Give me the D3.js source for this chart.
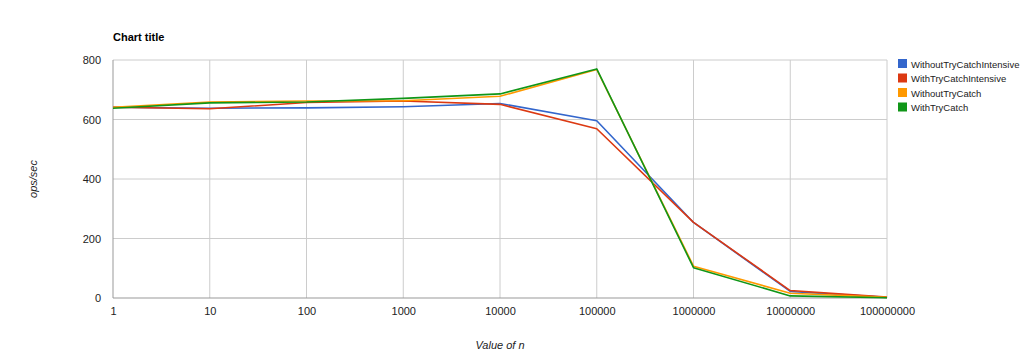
<!DOCTYPE html>
<html>
<head>
<meta charset="UTF-8">
<script src="https://d3js.org/d3.v7.min.js"></script>
<style>
    body { margin: 0; background: #fff; }
    svg { font-family: "Liberation Sans", Arial, sans-serif; }
    .tick text { font-size: 11px; fill: #222; }
</style>
</head>
<body>
<svg id="chart" width="1024" height="362"></svg>
<script>
    // Data
    const categories = ["1", "10", "100", "1000", "10000", "100000", "1000000", "10000000", "100000000"];
    const withoutTryCatchIntensive = [641, 638, 639, 643, 654, 596, 254, 22, 2];
    const withTryCatchIntensive = [641, 636, 657, 662, 651, 569, 254, 25, 3];
    const withoutTryCatch = [641, 659, 662, 663, 678, 768, 107, 16, 2];
    const withTryCatch = [638, 656, 659, 671, 686, 770, 102, 7, 1];
    const yTicks = [0, 200, 400, 600, 800];

    const series = [
        { name: "WithoutTryCatchIntensive", values: withoutTryCatchIntensive, color: "#3366cc" },
        { name: "WithTryCatchIntensive", values: withTryCatchIntensive, color: "#dc3912" },
        { name: "WithoutTryCatch", values: withoutTryCatch, color: "#ff9900" },
        { name: "WithTryCatch", values: withTryCatch, color: "#109618" }
    ];

    const svg = d3.select("#chart");
    const plotLeft = 113, plotRight = 887, plotTop = 60, plotBottom = 298;

    const x = d3.scalePoint().domain(categories).range([plotLeft, plotRight]);
    const y = d3.scaleLinear().domain([0, 800]).range([plotBottom, plotTop]);

    // Gridlines
    svg.append("g").selectAll("line").data(yTicks.slice(1)).enter().append("line")
        .attr("x1", plotLeft).attr("x2", plotRight)
        .attr("y1", d => y(d)).attr("y2", d => y(d))
        .attr("stroke", "#cccccc").attr("stroke-width", 1);
    svg.append("g").selectAll("line").data(categories.slice(1)).enter().append("line")
        .attr("x1", d => x(d)).attr("x2", d => x(d))
        .attr("y1", plotTop).attr("y2", plotBottom)
        .attr("stroke", "#cccccc").attr("stroke-width", 1);

    // Axes
    const yAxis = svg.append("g").attr("transform", `translate(${plotLeft},0)`)
        .call(d3.axisLeft(y).tickValues(yTicks).tickSize(0).tickPadding(12));
    yAxis.select(".domain").remove();
    const xAxis = svg.append("g").attr("transform", `translate(0,${plotBottom})`)
        .call(d3.axisBottom(x).tickSize(0).tickPadding(9));
    xAxis.select(".domain").remove();

    svg.append("line").attr("x1", plotLeft).attr("x2", plotLeft).attr("y1", plotTop).attr("y2", plotBottom)
        .attr("stroke", "#999999").attr("stroke-width", 1);
    svg.append("line").attr("x1", plotLeft).attr("x2", plotRight).attr("y1", plotBottom).attr("y2", plotBottom)
        .attr("stroke", "#999999").attr("stroke-width", 1);

    // Lines
    const line = d3.line().x((d, i) => x(categories[i])).y(d => y(d));
    series.forEach(s => {
        svg.append("path").datum(s.values)
            .attr("fill", "none")
            .attr("stroke", s.color)
            .attr("stroke-width", 1.6)
            .attr("stroke-linejoin", "round")
            .attr("d", line);
    });

    // Title
    svg.append("text").attr("x", plotLeft).attr("y", 41)
        .attr("font-size", 11).attr("font-weight", "bold").attr("fill", "#000")
        .text("Chart title");

    // Axis titles
    svg.append("text")
        .attr("transform", `translate(37,${(plotTop + plotBottom) / 2}) rotate(-90)`)
        .attr("text-anchor", "middle").attr("font-size", 11).attr("font-style", "italic")
        .attr("fill", "#222").text("ops/sec");
    svg.append("text").attr("x", x("10000")).attr("y", 349)
        .attr("text-anchor", "middle").attr("font-size", 11).attr("font-style", "italic")
        .attr("fill", "#222").text("Value of n");

    // Legend
    const legend = svg.append("g").selectAll("g").data(series).enter().append("g")
        .attr("transform", (d, i) => `translate(898,${59 + i * 14.5})`);
    legend.append("rect").attr("width", 9).attr("height", 9).attr("fill", d => d.color);
    legend.append("text").attr("x", 13).attr("y", 8.5)
        .attr("font-size", 9.5).attr("fill", "#222").text(d => d.name);
</script>
</body>
</html>
